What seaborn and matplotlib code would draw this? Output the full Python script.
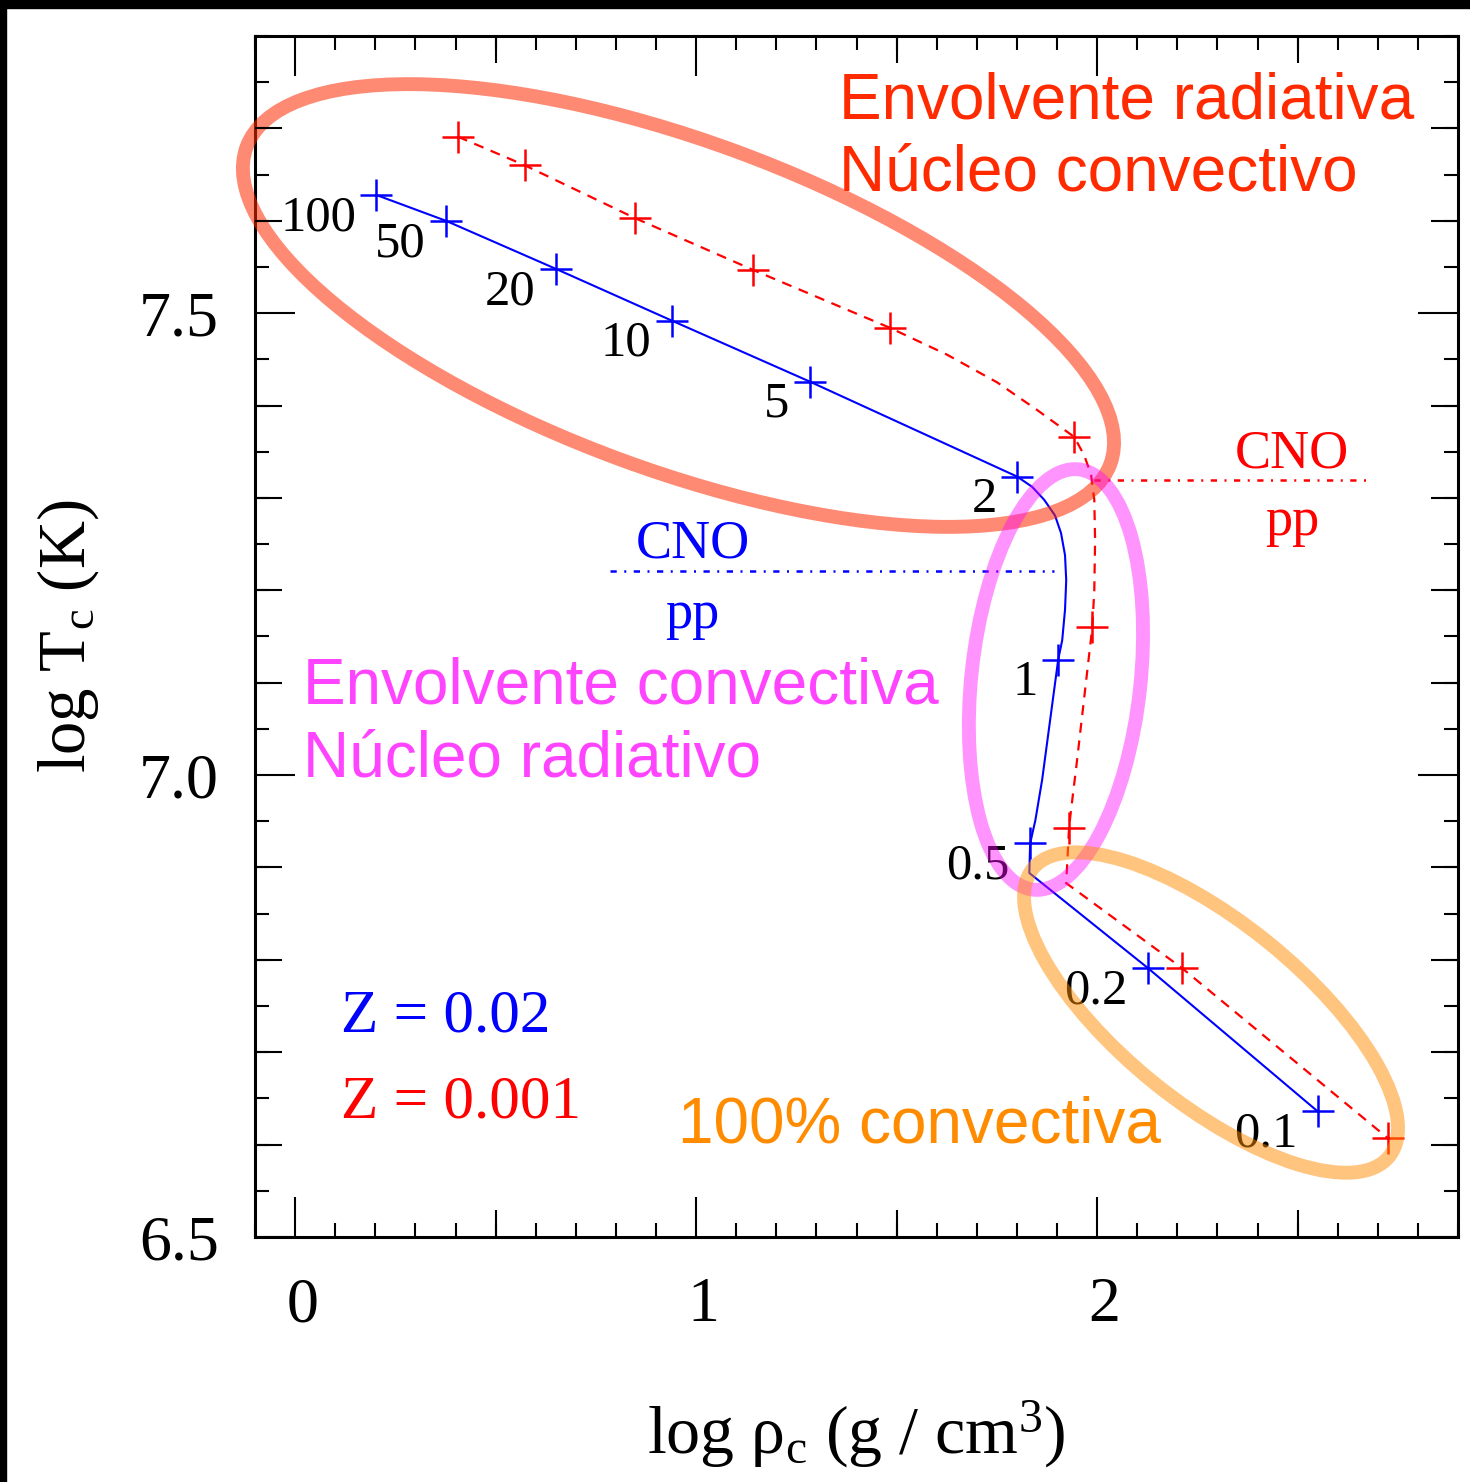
import matplotlib
matplotlib.use("Agg")
import matplotlib.pyplot as plt
from matplotlib.patches import Ellipse, Rectangle
from matplotlib.ticker import MultipleLocator, FixedLocator
from matplotlib.transforms import ScaledTranslation
import seaborn as sns

# ---------------------------------------------------------------
# ZAMS tracks in the (log rho_c, log T_c) plane
# ---------------------------------------------------------------
z02_track_logrho = [0.202, 0.376, 0.650, 0.939, 1.283, 1.801, 1.838, 1.868,
                    1.895, 1.910, 1.920, 1.923, 1.920, 1.913, 1.903, 1.883,
                    1.863, 1.846, 1.833, 1.831, 2.127, 2.550]
z02_track_logT = [7.628, 7.600, 7.548, 7.492, 7.426, 7.323, 7.312, 7.298,
                  7.281, 7.262, 7.238, 7.211, 7.179, 7.146, 7.125, 7.060,
                  6.995, 6.951, 6.926, 6.894, 6.791, 6.636]

z001_track_logrho = [0.406, 0.573, 0.847, 1.141, 1.484, 1.626, 1.751, 1.851,
                     1.943, 1.968, 1.985, 1.993, 1.995, 1.993, 1.988, 1.970,
                     1.950, 1.935, 1.930, 1.923, 2.212, 2.725]
z001_track_logT = [7.691, 7.660, 7.603, 7.547, 7.484, 7.455, 7.425, 7.395,
                   7.366, 7.346, 7.325, 7.298, 7.254, 7.200, 7.160, 7.092,
                   7.016, 6.962, 6.943, 6.883, 6.791, 6.607]

# stellar masses (M_sun) marked along the tracks
masses = ["100", "50", "20", "10", "5", "2", "1", "0.5", "0.2", "0.1"]
z02_logrho = [0.202, 0.376, 0.650, 0.939, 1.283, 1.801, 1.903, 1.833, 2.127, 2.550]
z02_logT = [7.628, 7.600, 7.548, 7.492, 7.426, 7.323, 7.125, 6.926, 6.791, 6.636]
z001_logrho = [0.406, 0.573, 0.847, 1.141, 1.484, 1.943, 1.988, 1.930, 2.212, 2.725]
z001_logT = [7.691, 7.660, 7.603, 7.547, 7.484, 7.366, 7.160, 6.943, 6.791, 6.607]

# CNO / pp dominance boundaries
z02_cno_logrho = [0.785, 1.893]
z02_cno_logT = [7.221, 7.221]
z001_cno_logrho = [1.993, 2.685]
z001_cno_logT = [7.319, 7.319]

x_ticks = [0, 1, 2]
x_ticklabels = ["0", "1", "2"]
y_ticks = [6.5, 7.0, 7.5]
y_ticklabels = ["6.5", "7.0", "7.5"]

C_RAD = "#FF2A00"
C_CONV = "#FF44FF"
C_FULL = "#FF8C00"

# ---------------------------------------------------------------
sns.set_style("white")
plt.rcParams["font.family"] = ["Liberation Serif", "DejaVu Serif"]
plt.rcParams["mathtext.fontset"] = "custom"
plt.rcParams["mathtext.rm"] = "Liberation Serif"
plt.rcParams["mathtext.it"] = "Liberation Serif:italic"
plt.rcParams["axes.linewidth"] = 2.2
for key in ["text.color", "axes.labelcolor", "xtick.color", "ytick.color",
            "axes.edgecolor"]:
    plt.rcParams[key] = "black"

W, H = 1470, 1482
fig = plt.figure(figsize=(W / 100, H / 100), dpi=100)
fig.patch.set_facecolor("white")
pos = [255 / W, 1 - 1237 / H, 1203 / W, 1201 / H]
ax = fig.add_axes(pos)
XLIM, YLIM = (-0.1, 2.9), (6.5, 7.8)

# tracks
sns.lineplot(x=z02_track_logrho, y=z02_track_logT, sort=False, estimator=None,
             color="blue", lw=1.5, ax=ax)
sns.lineplot(x=z001_track_logrho, y=z001_track_logT, sort=False, estimator=None,
             color="red", lw=1.6, linestyle=(0, (4.5, 3.5)), ax=ax)

# mass points
sns.scatterplot(x=z02_logrho, y=z02_logT, marker="+", s=500, color="blue",
                linewidth=1.8, edgecolor=None, ax=ax, zorder=4)
sns.scatterplot(x=z001_logrho, y=z001_logT, marker="+", s=500, color="red",
                linewidth=1.8, edgecolor=None, ax=ax, zorder=4)

for m, xv, yv in zip(masses, z02_logrho, z02_logT):
    ax.annotate(m, (xv, yv), xytext=(-14.5, -25.5), textcoords="offset points",
                ha="right", va="baseline", fontsize=36.5, color="black")

# CNO / pp boundaries
dashdot = (0, (2.5, 3, 0.8, 3))
sns.lineplot(x=z02_cno_logrho, y=z02_cno_logT, sort=False, estimator=None,
             color="blue", lw=1.8, linestyle=dashdot, ax=ax)
sns.lineplot(x=z001_cno_logrho, y=z001_cno_logT, sort=False, estimator=None,
             color="red", lw=1.8, linestyle=dashdot, ax=ax)
ax.text(0.991, 7.236, "CNO", color="blue", fontsize=39, ha="center", va="baseline")
ax.text(0.991, 7.159, "pp", color="blue", fontsize=39, ha="center", va="baseline")
ax.text(2.486, 7.333, "CNO", color="red", fontsize=39, ha="center", va="baseline")
ax.text(2.486, 7.260, "pp", color="red", fontsize=39, ha="center", va="baseline")

# metallicity key
ax.text(0.115, 6.722, "Z = 0.02", color="blue", fontsize=44, ha="left", va="baseline")
ax.text(0.115, 6.629, "Z = 0.001", color="red", fontsize=44, ha="left", va="baseline")

# structure regions
sans = ["Liberation Sans", "DejaVu Sans"]
ax.text(1.357, 7.711, "Envolvente radiativa", color=C_RAD, fontsize=46,
        family=sans, ha="left", va="baseline")
ax.text(1.357, 7.633, "Núcleo convectivo", color=C_RAD, fontsize=46,
        family=sans, ha="left", va="baseline")
ax.text(0.020, 7.078, "Envolvente convectiva", color=C_CONV, fontsize=46,
        family=sans, ha="left", va="baseline")
ax.text(0.020, 6.999, "Núcleo radiativo", color=C_CONV, fontsize=46,
        family=sans, ha="left", va="baseline")
ax.text(0.954, 6.602, "100% convectiva", color=C_FULL, fontsize=46,
        family=sans, ha="left", va="baseline")

ax.add_patch(Ellipse((0.352, 0.7756), 0.765, 0.274, angle=-20.2,
                     transform=ax.transAxes, fill=False, lw=10,
                     edgecolor=C_RAD, alpha=0.55, zorder=5, clip_on=False))
ax.add_patch(Ellipse((0.6658, 0.4642), 0.352, 0.1406, angle=83.85,
                     transform=ax.transAxes, fill=False, lw=10,
                     edgecolor="#FF00FF", alpha=0.42, zorder=5, clip_on=False))
ax.add_patch(Ellipse((0.7947, 0.1869), 0.381, 0.1506, angle=-39.0,
                     transform=ax.transAxes, fill=False, lw=10,
                     edgecolor=C_FULL, alpha=0.5, zorder=5, clip_on=False))

# axes
ax.set_xlim(*XLIM)
ax.set_ylim(*YLIM)
ax.xaxis.set_major_locator(FixedLocator(x_ticks))
ax.xaxis.set_minor_locator(MultipleLocator(0.1))
ax.yaxis.set_major_locator(FixedLocator(y_ticks))
ax.yaxis.set_minor_locator(MultipleLocator(0.05))
ax.set_xticklabels(x_ticklabels)
ax.set_yticklabels(y_ticklabels)
ax.tick_params(which="both", direction="in", top=True, right=True,
               bottom=True, left=True, width=1.5, color="black", labelsize=46)
ax.tick_params(which="major", length=29)
ax.tick_params(which="minor", length=10)
ax.tick_params(axis="x", which="major", pad=29)
ax.tick_params(axis="y", which="major", pad=26)
for lab in ax.get_xticklabels():
    lab.set_transform(lab.get_transform()
                      + ScaledTranslation(7 / 100, 0, fig.dpi_scale_trans))
for s in ax.spines.values():
    s.set_color("black")

ax.set_xlabel(r"log $\mathrm{\rho_c}$ (g / cm$^3$)", fontsize=49)
ax.set_ylabel(r"log T$_\mathrm{c}$ (K)", fontsize=48)
ax.xaxis.set_label_coords(0.5, -0.135)
ax.yaxis.set_label_coords(-0.128, 0.5)

# intermediate tick level
axm = fig.add_axes(pos, frameon=False)
axm.patch.set_visible(False)
axm.set_xlim(*XLIM)
axm.set_ylim(*YLIM)
axm.set_xticks([0.5, 1.5, 2.5])
axm.set_yticks([6.6, 6.7, 6.8, 6.9, 7.1, 7.2, 7.3, 7.4, 7.6, 7.7])
axm.tick_params(direction="in", length=19.5, width=1.5, color="black",
                top=True, right=True, bottom=True, left=True,
                labelbottom=False, labelleft=False)

# frame bands
fig.add_artist(Rectangle((0, 1 - 8 / H), 1, 8 / H, transform=fig.transFigure,
                         color="black", zorder=10))
fig.add_artist(Rectangle((0, 0), 6 / W, 1, transform=fig.transFigure,
                         color="black", zorder=10))

fig.savefig("out.png", dpi=100)
